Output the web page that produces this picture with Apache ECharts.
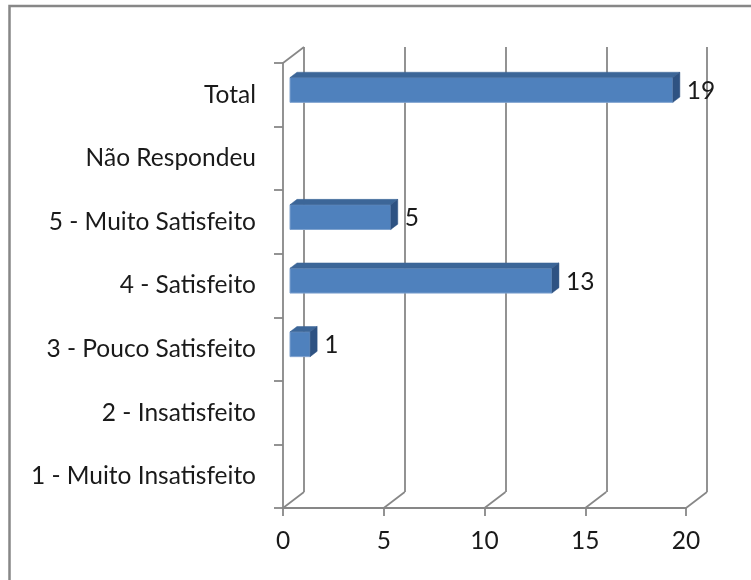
<!DOCTYPE html>
<html>
<head>
<meta charset="utf-8">
<script src="https://cdn.jsdelivr.net/npm/echarts@6/dist/echarts.min.js"></script>
<style>
html,body{margin:0;padding:0;background:#fff;}
#chart{width:751px;height:580px;}
</style>
</head>
<body>
<div id="chart"></div>
<script>
const categories = ['1 - Muito Insatisfeito', '2 - Insatisfeito', '3 - Pouco Satisfeito', '4 - Satisfeito', '5 - Muito Satisfeito', 'Não Respondeu', 'Total'];
const values = [null, null, 1, 13, 5, null, 19];
const xTicks = [0, 5, 10, 15, 20];

const FONT = 'Lato';
const FS = 24.5;
const GRAY = '#878787';
const DX = 21, DY = -16;

const chart = echarts.init(document.getElementById('chart'), null, {renderer: 'canvas'});

const barData = values.map((v, i) => [v, i]);
const tickData = xTicks.map(v => [v, 0]);

const option = {
  backgroundColor: '#fff',
  animation: false,
  graphic: [{
    type: 'rect', shape: {x: 9.5, y: 6, width: 800, height: 700},
    style: {fill: 'none', stroke: GRAY, lineWidth: 2.5}, z: -10
  }],
  grid: [
    {left: 283, top: 63, width: 403, height: 445},
    {left: 283 + DX, top: 63 + DY, width: 403, height: 445}
  ],
  xAxis: [
    {
      type: 'value', gridIndex: 0, min: 0, max: 20, interval: 5,
      axisLine: {show: true, lineStyle: {color: GRAY, width: 1.8}},
      axisTick: {show: true, length: 8, lineStyle: {color: GRAY, width: 1.8}},
      axisLabel: {show: true, margin: 21, color: '#1a1a1a', fontFamily: FONT, fontSize: FS},
      splitLine: {show: false}
    },
    {
      type: 'value', gridIndex: 1, min: 0, max: 20, interval: 5,
      axisLine: {show: false}, axisTick: {show: false}, axisLabel: {show: false},
      splitLine: {show: true, showMinLine: true, showMaxLine: true, lineStyle: {color: GRAY, width: 1.8}}
    }
  ],
  yAxis: [
    {
      type: 'category', gridIndex: 0, data: categories,
      axisLine: {show: true, lineStyle: {color: GRAY, width: 1.8}},
      axisTick: {show: true, length: 9, alignWithLabel: false, lineStyle: {color: GRAY, width: 1.8}},
      axisLabel: {show: true, margin: 27, color: '#1a1a1a', fontFamily: FONT, fontSize: FS},
      splitLine: {show: false}
    },
    {
      type: 'category', gridIndex: 1, data: categories,
      axisLine: {show: false}, axisTick: {show: false}, axisLabel: {show: false}, splitLine: {show: false}
    }
  ],
  series: [
    {
      type: 'custom', xAxisIndex: 0, yAxisIndex: 0, z: 3,
      data: tickData,
      renderItem: function (params, api) {
        const v = api.value(0);
        const cs = params.coordSys;
        const x = api.coord([v, 0])[0];
        const yb = cs.y + cs.height;
        const children = [{
          type: 'line',
          shape: {x1: x, y1: yb, x2: x + DX, y2: yb + DY},
          style: {stroke: GRAY, lineWidth: 1.8}
        }];
        if (v === xTicks[0]) {
          children.push({
            type: 'line',
            shape: {x1: x, y1: cs.y, x2: x + DX, y2: cs.y + DY},
            style: {stroke: GRAY, lineWidth: 1.8}
          });
        }
        return {type: 'group', children: children};
      }
    },
    {
      type: 'custom', xAxisIndex: 0, yAxisIndex: 0, z: 5,
      data: barData,
      renderItem: function (params, api) {
        const v = api.value(0);
        if (!(v > 0)) return null;
        const i = api.value(1);
        const p0 = api.coord([0, i]);
        const p1 = api.coord([v, i]);
        const band = api.size([0, 1])[1];
        const h = band * 0.39;
        const ox = DX / 3, oy = DY / 3;
        const x0 = p0[0] + ox, x1 = p1[0] + ox;
        const yc = p1[1] + oy + 0.5;
        const yt = yc - h / 2, yb = yc + h / 2;
        return {
          type: 'group',
          children: [
            {type: 'rect', shape: {x: x0, y: yt, width: x1 - x0, height: h},
             style: {fill: '#4f81bd', stroke: '#7fa2cf', lineWidth: 1}},
            {type: 'polygon', shape: {points: [[x0, yt], [x1, yt], [x1 + ox, yt + oy], [x0 + ox, yt + oy]]},
             style: {fill: '#3c6698', stroke: '#3c6698', lineWidth: 0.5}},
            {type: 'polygon', shape: {points: [[x1, yt], [x1 + ox, yt + oy], [x1 + ox, yb + oy], [x1, yb]]},
             style: {fill: '#2e5282', stroke: '#2e5282', lineWidth: 0.5}},
            {type: 'text', style: {x: x1 + ox + 7, y: yc + 1, text: String(v), fill: '#1a1a1a',
              font: FS + 'px ' + FONT, verticalAlign: 'middle', align: 'left'}}
          ]
        };
      }
    }
  ]
};
chart.setOption(option);
</script>
</body>
</html>
